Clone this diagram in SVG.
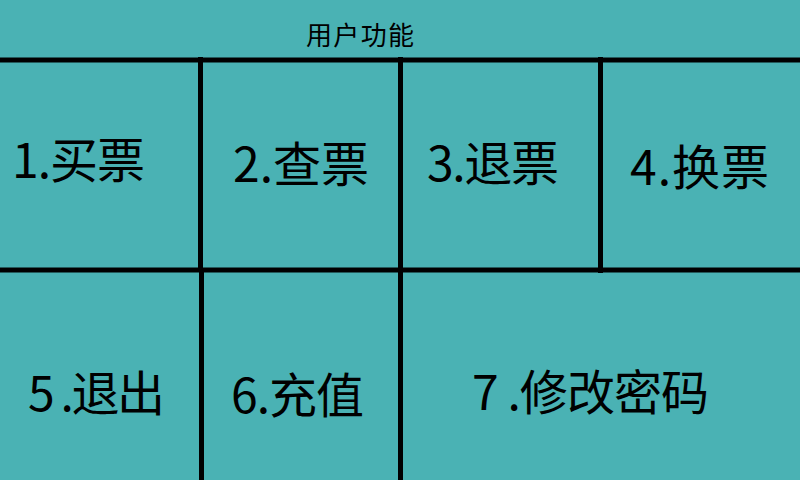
<svg xmlns="http://www.w3.org/2000/svg" width="800" height="480" viewBox="0 0 800 480">
<style>
.bg{fill:#4AB2B4}
.ln{stroke:#000;stroke-width:5;fill:none}
.lbl{font-family:"Microsoft YaHei","Noto Sans CJK SC",sans-serif;font-size:48px;fill:#000}
.ttl{font-family:"Microsoft YaHei","Noto Sans CJK SC",sans-serif;font-size:26px;fill:#000}
</style>
<rect class="bg" x="0" y="0" width="800" height="480"/>
<g id="title"><text class="ttl" x="306" y="45" textLength="108" lengthAdjust="spacing">用户功能</text></g>
<g id="connectors">
<line class="ln" x1="0" y1="60" x2="800" y2="60"/>
<line class="ln" x1="0" y1="270" x2="800" y2="270"/>
<line class="ln" x1="200.5" y1="57" x2="200.5" y2="270"/>
<line class="ln" x1="201.5" y1="270" x2="201.5" y2="480"/>
<line class="ln" x1="400.5" y1="57" x2="400.5" y2="480"/>
<line class="ln" x1="600.5" y1="57" x2="600.5" y2="273"/>
</g>
<g id="n1"><text class="lbl" x="12" y="178" textLength="133" lengthAdjust="spacing">1.买票</text></g>
<g id="n2"><text class="lbl" x="233" y="182" textLength="136" lengthAdjust="spacing">2.查票</text></g>
<g id="n3"><text class="lbl" x="427" y="181" textLength="132" lengthAdjust="spacing">3.退票</text></g>
<g id="n4"><text class="lbl" x="630" y="185" textLength="139" lengthAdjust="spacing">4.换票</text></g>
<g id="n5"><text class="lbl" x="28" y="411" textLength="137" lengthAdjust="spacing">5 .退出</text></g>
<g id="n6"><text class="lbl" x="231" y="413" textLength="133" lengthAdjust="spacing">6.充值</text></g>
<g id="n7"><text class="lbl" x="472" y="410" textLength="237" lengthAdjust="spacing">7 .修改密码</text></g>
</svg>
